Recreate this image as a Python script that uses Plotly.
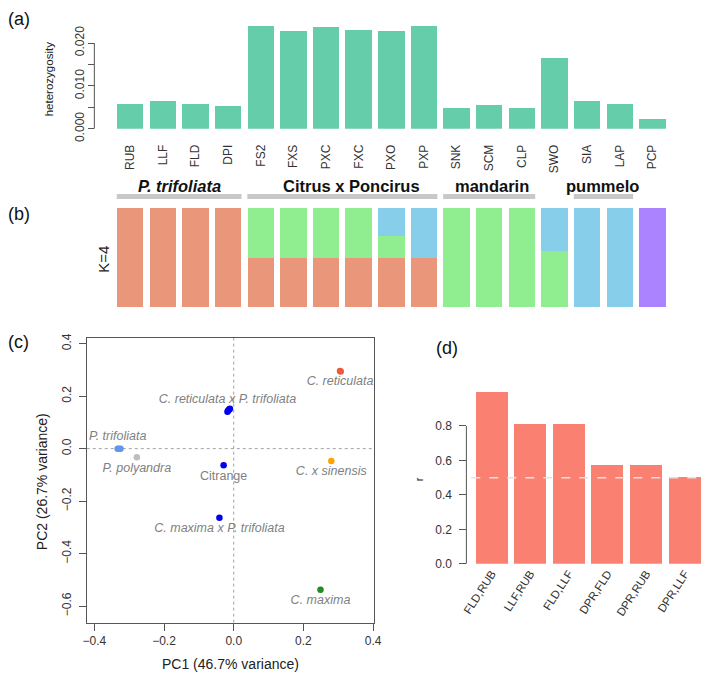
import plotly.graph_objects as go

W, H = 709, 688
def fx(p):
    return p / W
def fy(p):
    return 1 - p / H

# ---------------- data ----------------
samples = ["RUB", "LLF", "FLD", "DPI", "FS2", "FXS", "PXC", "FXC", "PXO", "PXP",
           "SNK", "SCM", "CLP", "SWO", "SIA", "LAP", "PCP"]
heterozygosity = [0.0059, 0.0064, 0.0059, 0.0054, 0.0239, 0.0227, 0.0237, 0.0231, 0.0227, 0.0240,
                  0.0048, 0.0055, 0.0048, 0.0165, 0.0065, 0.0058, 0.0023]

anc_trifoliata = [1, 1, 1, 1, 0.5, 0.5, 0.5, 0.5, 0.5, 0.5, 0, 0, 0, 0, 0, 0, 0]
anc_mandarin = [0, 0, 0, 0, 0.5, 0.5, 0.5, 0.5, 0.22, 0, 1, 1, 1, 0.565, 0, 0, 0]
anc_pummelo = [0, 0, 0, 0, 0, 0, 0, 0, 0.28, 0.5, 0, 0, 0, 0.435, 1, 1, 0]
anc_other = [0, 0, 0, 0, 0, 0, 0, 0, 0, 0, 0, 0, 0, 0, 0, 0, 1]

group_names = ["<b><i>P. trifoliata</i></b>", "<b>Citrus x Poncirus</b>", "<b>mandarin</b>", "<b>pummelo</b>"]
group_start = [0, 4, 10, 14]
group_end = [3, 9, 12, 15]

pca_labels = ["C. reticulata", "C. reticulata x P. trifoliata", "P. trifoliata", "P. polyandra",
              "Citrange", "C. maxima x P. trifoliata", "C. x sinensis", "C. maxima"]
pca_x = [[0.305, 0.307], [-0.018, -0.016, -0.013, -0.011], [-0.333, -0.329, -0.325], [-0.278],
         [-0.029], [-0.041], [0.280], [0.249, 0.252]]
pca_y = [[0.296, 0.294], [0.141, 0.145, 0.149, 0.152], [0.0, 0.0, 0.0], [-0.033],
         [-0.063], [-0.263], [-0.047], [-0.538]]
pca_colors = ["#F05A3C", "#0000EE", "#6495ED", "#BEBEBE", "#0000EE", "#0000EE", "#FFA500", "#228B22"]
pca_italic = [True, True, True, True, False, True, True, True]
pca_textpos = ["bottom center", "top center", "top center", "bottom center",
               "bottom center", "bottom center", "bottom center", "bottom center"]

pairs = ["FLD,RUB", "LLF,RUB", "FLD,LLF", "DPR,FLD", "DPR,RUB", "DPR,LLF"]
r_values = [0.998, 0.81, 0.81, 0.572, 0.572, 0.505]
r_threshold = 0.5

het_ticks = [0, 0.005, 0.01, 0.015, 0.02]
het_ticktext = ["0.000", "", "0.010", "", "0.020"]
pc_ticks = [-0.4, -0.2, 0.0, 0.2, 0.4]
pc1_ticktext = ["\u22120.4", "\u22120.2", "0.0", "0.2", "0.4"]
pc2_ticks = [-0.6, -0.4, -0.2, 0.0, 0.2, 0.4]
pc2_ticktext = ["\u22120.6", "\u22120.4", "\u22120.2", "0.0", "0.2", "0.4"]
r_ticks = [0, 0.2, 0.4, 0.6, 0.8]
r_ticktext = ["0.0", "0.2", "0.4", "0.6", "0.8"]

FONT = "Liberation Sans, Arial, Helvetica, sans-serif"
TXT = "#333333"
AX = "#555555"

fig = go.Figure()
idx = list(range(len(samples)))

# (a)
fig.add_trace(go.Bar(x=idx, y=heterozygosity, width=0.81, marker=dict(color="#66CDAA", line=dict(width=0)),
                     xaxis="x", yaxis="y", showlegend=False))
# (b)
for vals, col in [(anc_trifoliata, "#E9967A"), (anc_mandarin, "#90EE90"),
                  (anc_pummelo, "#87CEEB"), (anc_other, "#AB82FF")]:
    fig.add_trace(go.Bar(x=idx, y=vals, width=0.81, marker=dict(color=col, line=dict(width=0)),
                         xaxis="x2", yaxis="y2", showlegend=False))
# (c)
for lab, xs, ys, col, it, tp in zip(pca_labels, pca_x, pca_y, pca_colors, pca_italic, pca_textpos):
    txt = ["<i>%s</i>" % lab if it else lab] + [""] * (len(xs) - 1)
    fig.add_trace(go.Scatter(x=xs, y=ys, mode="markers+text", text=txt, textposition=tp,
                             textfont=dict(family=FONT, size=12.5, color="#7F7F7F"),
                             marker=dict(color=col, size=6.5, line=dict(width=0)),
                             xaxis="x3", yaxis="y3", showlegend=False, cliponaxis=False))
# (d)
fig.add_trace(go.Bar(x=list(range(len(pairs))), y=r_values, width=0.83,
                     marker=dict(color="#FA8072", line=dict(width=0)),
                     xaxis="x4", yaxis="y4", showlegend=False))

common = dict(showgrid=False, zeroline=False, tickfont=dict(family=FONT, size=12, color=TXT))

bar_step = 33.25
bar0 = 127.5
xa_range = [(0 - bar0) / bar_step, (W - bar0) / bar_step]
het_scale = 88 / 0.02  # px per unit

shapes = []
annotations = []

layout = dict(
    width=W, height=H, margin=dict(l=0, r=0, t=0, b=0),
    paper_bgcolor="white", plot_bgcolor="rgba(0,0,0,0)", barmode="stack",
    font=dict(family=FONT, color=TXT),
    xaxis=dict(domain=[0, 1], range=xa_range, anchor="y", tickvals=idx, ticktext=samples,
               tickangle=-90, ticks="outside", ticklen=10, tickcolor="rgba(0,0,0,0)",
               showline=False, **common),
    yaxis=dict(domain=[fy(128), fy(15)], range=[0, (128 - 15) / het_scale], anchor="free",
               position=fx(91), tickvals=het_ticks, ticktext=het_ticktext, tickangle=-90,
               ticks="outside", ticklen=6, tickcolor=AX, showline=False, **common),
    xaxis2=dict(domain=[0, 1], range=xa_range, anchor="y2", visible=False),
    yaxis2=dict(domain=[fy(311), fy(209)], range=[0, 1], anchor="x2", visible=False),
    xaxis3=dict(domain=[fx(83.3), fx(375.7)], range=[-0.4217, 0.402], anchor="y3",
                tickvals=pc_ticks, ticktext=pc1_ticktext, ticks="outside", ticklen=7, tickcolor=AX,
                showline=True, mirror=True, linecolor=AX, linewidth=1, **common),
    yaxis3=dict(domain=[fy(634.3), fy(342.3)], range=[-0.663, 0.4223], anchor="x3",
                tickvals=pc2_ticks, ticktext=pc2_ticktext, tickangle=-90, ticks="outside", ticklen=7,
                tickcolor=AX, showline=True, mirror=True, linecolor=AX, linewidth=1,
                ticklabelstandoff=3, **common),
    xaxis4=dict(domain=[fx(470), 1], range=[(470 - 495.7) / 39.33, (W - 495.7) / 39.33], anchor="y4",
                tickvals=list(range(len(pairs))), ticktext=pairs, tickangle=-57, ticks="",
                showline=False, showgrid=False, zeroline=False,
                tickfont=dict(family=FONT, size=11.5, color=TXT)),
    yaxis4=dict(domain=[fy(574), fy(390)], range=[0, (574 - 390) / 176.7], anchor="free",
                position=fx(470), tickvals=r_ticks, ticktext=r_ticktext, ticks="outside", ticklen=7,
                tickcolor=AX, showline=False, ticklabelstandoff=5, **common),
)

# R-style axis lines
shapes.append(dict(type="line", xref="paper", yref="y", x0=fx(91), x1=fx(91), y0=0, y1=0.02,
                   line=dict(color=AX, width=1)))
shapes.append(dict(type="line", xref="paper", yref="y4", x0=fx(470), x1=fx(470), y0=0, y1=0.8,
                   line=dict(color=AX, width=1)))
# group bars in (b)
label_shift = [0, 9, 3, -1]
for name, s, e, sh in zip(group_names, group_start, group_end, label_shift):
    shapes.append(dict(type="line", xref="x2", yref="paper", x0=s - 0.41, x1=e + 0.41,
                       y0=fy(197.5), y1=fy(197.5), line=dict(color="#C8C8C8", width=5)))
    annotations.append(dict(text=name, xref="x2", yref="paper", x=(s + e) / 2, y=fy(186.5),
                            xshift=sh, showarrow=False, font=dict(family=FONT, size=16.5, color="#111111"),
                            xanchor="center", yanchor="middle"))
# PCA reference lines
shapes.append(dict(type="line", xref="x3", yref="y3 domain", x0=0, x1=0, y0=0, y1=1,
                   line=dict(color="#A0A0A0", width=1, dash="dot"), layer="below"))
shapes.append(dict(type="line", xref="x3 domain", yref="y3", x0=0, x1=1, y0=0, y1=0,
                   line=dict(color="#A0A0A0", width=1, dash="dot"), layer="below"))
# threshold line in (d)
shapes.append(dict(type="line", xref="paper", yref="y4", x0=fx(475), x1=1, y0=r_threshold, y1=r_threshold,
                   line=dict(color="#E2E2E2", width=1.5, dash="dash"), layer="above"))

def ann(text, x, y, size, angle=0, color="#111111"):
    annotations.append(dict(text=text, xref="paper", yref="paper", x=fx(x), y=fy(y), showarrow=False,
                            textangle=angle, font=dict(family=FONT, size=size, color=color),
                            xanchor="center", yanchor="middle"))

ann("(a)", 14, 15, 18)
ann("(b)", 14, 215, 18)
ann("(c)", 14, 347, 18)
ann("(d)", 450, 353, 18)
ann("heterozygosity", 45, 77, 11.5, -90, "#222222")
ann("K=4", 100, 262, 15, -90, "#222222")
ann("PC2 (26.7% variance)", 38, 490, 14, -90, "#222222")
ann("PC1 (46.7% variance)", 229.5, 677, 14, 0, "#222222")
ann("r", 422, 487, 11, -90, "#222222")

layout["shapes"] = shapes
layout["annotations"] = annotations
fig.update_layout(**layout)

fig.write_html("out.html", config={"displayModeBar": False},
               post_script="document.body.style.margin='0px';document.body.style.padding='0px';"
                           "document.body.style.overflow='hidden';")
